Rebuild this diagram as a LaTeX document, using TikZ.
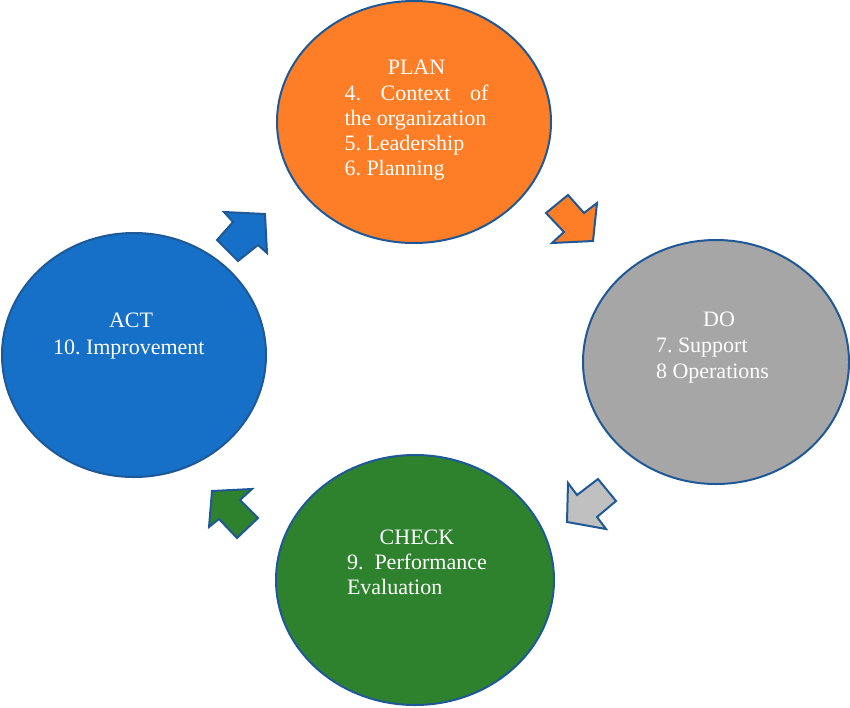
\documentclass[tikz,border=0pt]{standalone}
\usepackage{fontspec}
\setmainfont{Liberation Serif}
\usetikzlibrary{shapes.geometric}
\definecolor{edgeblue}{RGB}{31,88,150}
\definecolor{planorange}{RGB}{253,126,38}
\definecolor{dogray}{RGB}{166,166,166}
\definecolor{arrowgray}{RGB}{192,192,192}
\definecolor{checkgreen}{RGB}{46,130,46}
\definecolor{actblue}{RGB}{22,112,200}
\begin{document}
\frenchspacing
\begin{tikzpicture}[x=1pt,y=-1pt,
  phase/.style={ellipse, draw=edgeblue, line width=2pt, inner sep=0pt},
  txt/.style={text=white, align=left, inner sep=0pt},
  blockarrow/.style={draw=edgeblue, line width=2pt, line join=miter}]
\useasboundingbox (0,0) rectangle (850,707);
% phases
\node[phase, fill=planorange, minimum width=274pt, minimum height=242pt] (plan) at (414,122) {};
\node[phase, fill=dogray, minimum width=266pt, minimum height=244pt] (do) at (716,362) {};
\node[phase, fill=checkgreen, minimum width=278pt, minimum height=250pt] (check) at (415,580) {};
\node[phase, fill=actblue, minimum width=264pt, minimum height=244pt] (act) at (134,355) {};
% texts
\node[txt, font=\fontsize{22}{25.25}\selectfont] (plantxt) at (416.5,120.4)
  {\makebox[144pt][c]{PLAN}\\ \makebox[144pt][s]{4.\hfill Context\hfill of}\\ the organization\\ 5. Leadership\\ 6. Planning};
\node[txt, font=\fontsize{22}{26}\selectfont] (dotxt) at (713,348)
  {\makebox[114pt][c]{\hspace{12pt}DO}\\ 7. Support\\ 8 Operations};
\node[txt, font=\fontsize{22}{25}\selectfont] (checktxt) at (417,562)
  {\makebox[140pt][c]{CHECK}\\ 9.\ \ Performance\\ Evaluation};
\node[txt, font=\fontsize{22}{27}\selectfont] (acttxt) at (129,335.6)
  {\makebox[152pt][c]{\hspace{4pt}ACT}\\ 10. Improvement};
% block arrows
\draw[blockarrow, fill=actblue] (265,214) -- (224,212) -- (233,222) -- (217,240) -- (238,261) -- (258,245) -- (267,253) -- cycle;
\draw[blockarrow, fill=planorange] (593,241) -- (552,243) -- (564,232) -- (546,213) -- (568,195) -- (584,213) -- (597,203) -- cycle;
\draw[blockarrow, fill=arrowgray] (567,522) -- (568,483) -- (577,495) -- (598,479) -- (616,501) -- (597,517) -- (606,529) -- cycle;
\draw[blockarrow, fill=checkgreen] (212,491) -- (252,489) -- (240,500) -- (258,518) -- (237,538) -- (219,519) -- (209,527) -- cycle;
\end{tikzpicture}
\end{document}
